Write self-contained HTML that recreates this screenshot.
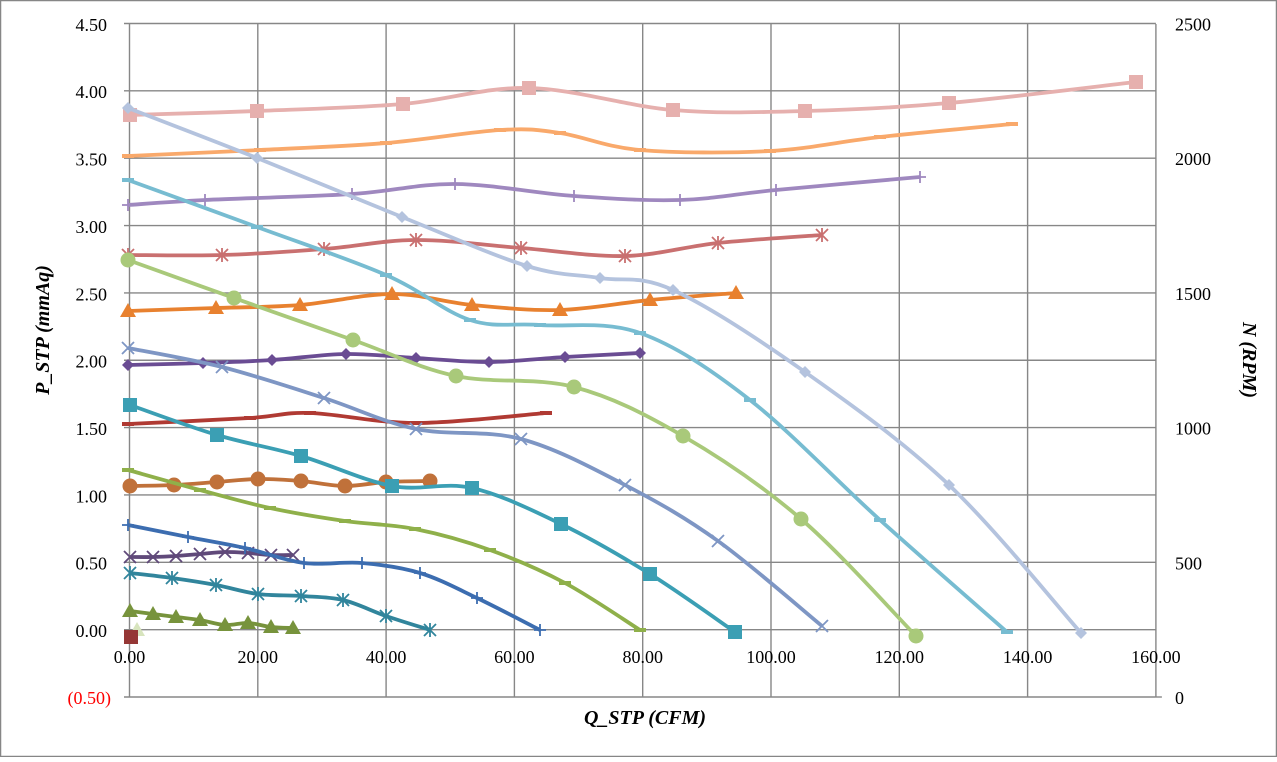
<!DOCTYPE html>
<html><head><meta charset="utf-8"><style>
body{margin:0;background:#fff}
svg text{font-family:"Liberation Serif",serif}
</style></head><body>
<svg id="s" width="1277" height="757" xmlns="http://www.w3.org/2000/svg">
<rect x="0.5" y="0.5" width="1276" height="756" fill="#fff" stroke="#868686" stroke-width="1.5"/>
<g id="grid"></g>
<g id="series"></g>
<g font-size="18" fill="#000">
<g id="lab"></g>
</g>
<text x="645" y="724" font-size="20" font-weight="bold" font-style="italic" text-anchor="middle">Q_STP (CFM)</text>
<text transform="translate(49,330) rotate(-90)" font-size="20" font-weight="bold" font-style="italic" text-anchor="middle">P_STP (mmAq)</text>
<text transform="translate(1243,360) rotate(90)" font-size="20" font-weight="bold" font-style="italic" text-anchor="middle">N (RPM)</text>
</svg>
<script>
var NS="http://www.w3.org/2000/svg";
function el(p,t,a,txt){var e=document.createElementNS(NS,t);for(var k in a)e.setAttribute(k,a[k]);if(txt!==undefined)e.textContent=txt;p.appendChild(e);return e;}
var g=document.getElementById('grid'),L=document.getElementById('lab'),S=document.getElementById('series');
var X0=129.5,DX=128.3,GC='#878787';
for(var i=0;i<=10;i++){var y=697-i*67.35;el(g,'line',{x1:124,x2:X0+8*DX,y1:y,y2:y,stroke:GC,'stroke-width':1.4});}
for(var i=0;i<=8;i++){var x=X0+i*DX;el(g,'line',{x1:x,x2:x,y1:24,y2:697,stroke:GC,'stroke-width':1.4});
 el(L,'text',{x:x,y:663,'text-anchor':'middle'},(i*20).toFixed(2));}
el(g,'line',{x1:X0+8*DX,x2:X0+8*DX+6,y1:697,y2:697,stroke:GC,'stroke-width':1.4});
for(var i=0;i<=9;i++){el(L,'text',{x:107,y:630-i*67.35+7,'text-anchor':'end'},(i*0.5).toFixed(2));}
el(L,'text',{x:111,y:704,'text-anchor':'end',fill:'#ff0000'},'(0.50)');
for(var i=0;i<=5;i++){el(L,'text',{x:1175,y:697-i*134.7+7},String(i*500));}
function path(p){var d='M'+p[0][0]+','+p[0][1];for(var i=0;i<p.length-1;i++){var p0=p[i-1]||p[i],p1=p[i],p2=p[i+1],p3=p[i+2]||p2;var t=6;
 d+=' C'+(p1[0]+(p2[0]-p0[0])/t)+','+(p1[1]+(p2[1]-p0[1])/t)+' '+(p2[0]-(p3[0]-p1[0])/t)+','+(p2[1]-(p3[1]-p1[1])/t)+' '+p2[0]+','+p2[1];}return d;}
function mk(x,y,m,c){var s=7;
 if(m=='sq')el(S,'rect',{x:x-s,y:y-s,width:2*s,height:2*s,fill:c});
 else if(m=='ci')el(S,'circle',{cx:x,cy:y,r:7.5,fill:c});
 else if(m=='tr')el(S,'polygon',{points:(x)+','+(y-8)+' '+(x-8)+','+(y+6)+' '+(x+8)+','+(y+6),fill:c});
 else if(m=='di')el(S,'polygon',{points:x+','+(y-6)+' '+(x+6)+','+y+' '+x+','+(y+6)+' '+(x-6)+','+y,fill:c});
 else if(m=='pl'){el(S,'path',{d:'M'+(x-6)+','+y+'h12M'+x+','+(y-6)+'v12',stroke:c,'stroke-width':1.8});}
 else if(m=='x'){el(S,'path',{d:'M'+(x-6)+','+(y-6)+'l12,12M'+(x+6)+','+(y-6)+'l-12,12',stroke:c,'stroke-width':1.8});}
 else if(m=='st'){el(S,'path',{d:'M'+(x-6)+','+(y-6)+'l12,12M'+(x+6)+','+(y-6)+'l-12,12M'+x+','+(y-7)+'v14',stroke:c,'stroke-width':1.8});}
 else if(m=='da'){el(S,'path',{d:'M'+(x-6)+','+y+'h12',stroke:c,'stroke-width':4});}
}
var D=[
['#E6B0AE','sq',[[130,115],[257,111],[403,104],[529,88],[673,110],[805,111],[949,103],[1136,82]]],
['#F9A96B','da',[[128,156],[260,150],[386,143],[500,130],[560,133],[640,150],[770,151],[880,137],[1012,124]]],
['#9F88BF','pl',[[128,205],[205,200],[352,194],[455,184],[574,196],[680,200],[776,190],[920,177]]],
['#C97070','st',[[128,255],[222,255],[324,249],[416,240],[521,248],[625,256],[718,243],[822,235]]],
['#E8812F','tr',[[128,311],[216,308],[300,305],[392,294],[472,305],[560,310],[650,300],[736,293]]],
['#6A4C93','di',[[128,365],[203,363],[272,360],[346,354],[416,358],[489,362],[565,357],[640,353]]],
['#B03A33','da',[[128,424],[250,418],[310,413],[416,423],[546,413]]],
['#C0713A','ci',[[130,486],[174,485],[217,482],[258,479],[301,481],[345,486],[386,482],[430,481]]],
['#60497A','x',[[130,557],[153,557],[176,556],[200,554],[225,552],[248,553],[271,555],[293,555]]],
['#31859C','st',[[130,573],[172,578],[216,585],[258,594],[301,596],[343,600],[386,616],[430,630]]],
['#77933C','tr',[[130,611],[153,614],[176,617],[200,620],[225,625],[248,623],[271,627],[293,628]]],
['#B4C3DE','di',[[128,108],[257,158],[402,217],[527,266],[600,278],[673,290],[805,372],[949,485],[1081,633]]],
['#77BCD1','da',[[128,180],[257,227],[386,275],[470,320],[540,325],[640,333],[750,400],[880,520],[1007,632]]],
['#A9C97A','ci',[[128,260],[234,298],[353,340],[456,376],[574,387],[683,436],[801,519],[916,636]]],
['#7E96C4','x',[[128,348],[222,367],[324,398],[416,429],[521,439],[625,485],[718,541],[822,626]]],
['#3B9FB4','sq',[[130,405],[217,435],[301,456],[392,486],[472,488],[561,524],[650,574],[735,632]]],
['#8FB04A','da',[[128,470],[200,490],[270,508],[345,521],[415,529],[490,550],[565,583],[640,630]]],
['#3C6DB0','pl',[[128,525],[188,537],[245,548],[304,563],[362,563],[420,573],[477,598],[540,630]]]
];
D.forEach(function(s){el(S,'path',{d:path(s[2]),fill:'none',stroke:s[0],'stroke-width':3.8,'stroke-linejoin':'round'});
 if(s[1])s[2].forEach(function(p){mk(p[0],p[1],s[1],s[0]);});});
mk(137,630,'tr','#D7E4BD');
mk(131,637,'sq','#953735');
</script>
</body></html>
